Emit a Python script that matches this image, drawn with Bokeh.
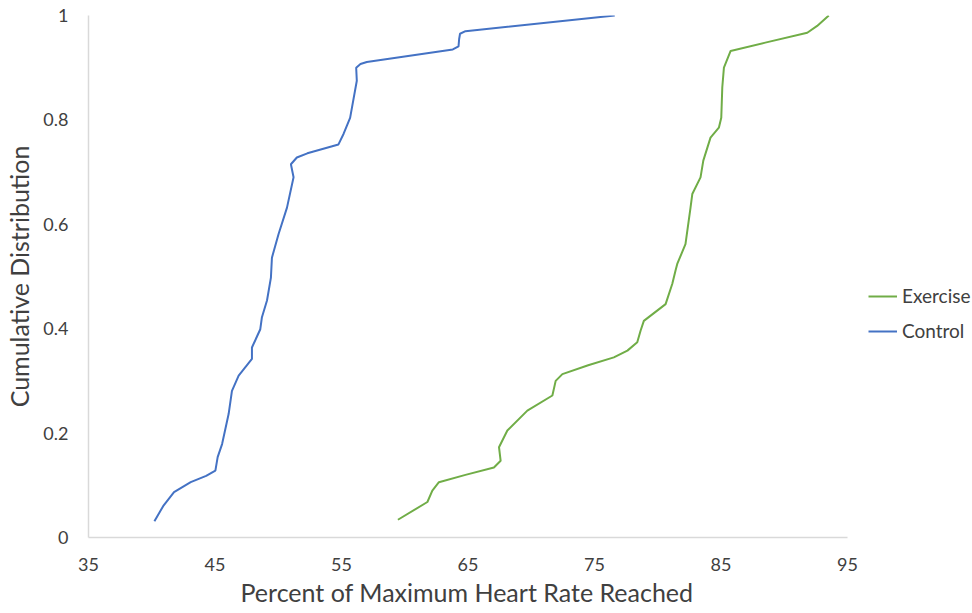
from bokeh.plotting import figure
from bokeh.models import Legend, LegendItem, FixedTicker, Range1d, Title
from bokeh.embed import file_html
from bokeh.resources import INLINE

# Traced points (Percent of max HR, cumulative distribution)
control_x = [40.21, 40.90, 41.76, 43.08, 44.30, 45.03, 45.21, 45.56, 46.08, 46.34, 46.87, 47.92, 47.92,
             48.58, 48.71, 49.11, 49.42, 49.50, 50.02, 50.69, 51.21, 51.00, 51.47, 52.30,
             54.76, 55.16, 55.68, 56.21, 56.16, 56.50, 57.00, 63.80, 64.25, 64.30, 64.37, 64.80, 76.60]
control_y = [0.031, 0.060, 0.087, 0.106, 0.118, 0.128, 0.154, 0.179, 0.237, 0.281, 0.310, 0.342, 0.364,
             0.399, 0.422, 0.454, 0.498, 0.536, 0.581, 0.632, 0.690, 0.715, 0.728, 0.736,
             0.753, 0.773, 0.804, 0.875, 0.900, 0.907, 0.911, 0.935, 0.941, 0.955, 0.965, 0.970, 1.000]

exercise_x = [59.46, 61.79, 62.18, 62.70, 64.80, 67.05, 67.58, 67.45, 68.11, 69.69, 71.67, 71.93,
              72.46, 74.50, 76.53, 77.60, 78.38, 78.64, 78.90, 80.62, 81.15, 81.40, 81.54, 82.19, 82.59,
              82.73, 83.38, 83.60, 84.17, 84.83, 85.02, 85.10, 85.23, 85.76, 88.50, 91.82, 92.60, 93.52]
exercise_y = [0.034, 0.068, 0.090, 0.106, 0.120, 0.134, 0.147, 0.173, 0.205, 0.243, 0.272, 0.300,
              0.313, 0.330, 0.345, 0.358, 0.374, 0.396, 0.415, 0.447, 0.486, 0.511, 0.524, 0.562, 0.632,
              0.658, 0.690, 0.722, 0.766, 0.785, 0.804, 0.862, 0.900, 0.932, 0.948, 0.967, 0.980, 1.000]

x_ticks = [35, 45, 55, 65, 75, 85, 95]
y_ticks = [0, 0.2, 0.4, 0.6, 0.8, 1]
y_tick_labels = {0: "0", 0.2: "0.2", 0.4: "0.4", 0.6: "0.6", 0.8: "0.8", 1: "1"}
x_title = "Percent of Maximum Heart Rate Reached"
y_title = "Cumulative Distribution"

FONT = "Lato"
BLUE = "#4472C4"
GREEN = "#70AD47"
AXIS = "#D9D9D9"
TEXT = "#404040"

# frame extends to the right edge (legend lives there); the axis line stops at 95
p = figure(width=972, height=613, output_backend="svg", toolbar_location=None,
           x_range=Range1d(35, 104.88), y_range=Range1d(0, 1),
           min_border_left=88, min_border_top=15, min_border_bottom=76, min_border_right=0)

r_ex = p.line(exercise_x, exercise_y, line_color=GREEN, line_width=2)
r_ct = p.line(control_x, control_y, line_color=BLUE, line_width=2)

p.xgrid.visible = False
p.ygrid.visible = False
p.outline_line_color = None

p.xaxis.ticker = FixedTicker(ticks=x_ticks)
p.xaxis.bounds = (35, 95)
p.yaxis.ticker = FixedTicker(ticks=y_ticks)
p.yaxis.major_label_overrides = y_tick_labels
for ax in (p.xaxis, p.yaxis):
    ax.axis_line_color = AXIS
    ax.axis_line_width = 1.5
    ax.major_tick_line_color = None
    ax.minor_tick_line_color = None
    ax.major_tick_out = 0
    ax.minor_tick_out = 0
    ax.major_label_text_font = FONT
    ax.major_label_text_font_size = "18px"
    ax.major_label_text_color = TEXT
    ax.axis_label_text_font = FONT
    ax.axis_label_text_font_style = "normal"
    ax.axis_label_text_color = TEXT
    ax.axis_label_text_font_size = "25px"

p.yaxis.axis_label = y_title
p.xaxis.major_label_standoff = 20
p.yaxis.major_label_standoff = 20
p.yaxis.axis_label_standoff = 6

# x-axis title, centred under the 35..95 axis line rather than the wider frame
p.add_layout(Title(text=x_title, align="left", offset=152, standoff=3,
                   text_font=FONT, text_font_size="25px", text_font_style="normal",
                   text_color=TEXT), "below")

legend = Legend(items=[LegendItem(label="Exercise", renderers=[r_ex]),
                       LegendItem(label="Control", renderers=[r_ct])],
                location=(780, 195), border_line_color=None,
                background_fill_alpha=0, label_text_font=FONT,
                label_text_font_size="19px", label_text_color=TEXT,
                glyph_width=29, spacing=12, label_standoff=5, margin=0, padding=0)
p.add_layout(legend, "center")

open("out.html", "w").write(file_html(p, INLINE))
